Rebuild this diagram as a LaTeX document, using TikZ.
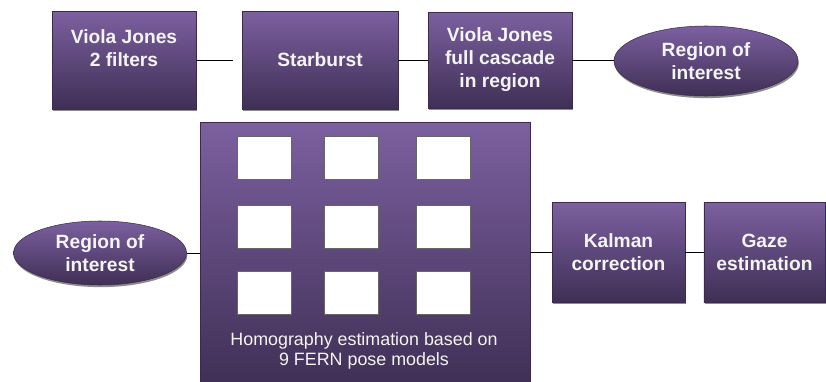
\documentclass[tikz,border=0pt]{standalone}
\usepackage{fontspec}
\setmainfont{Liberation Sans}
\usetikzlibrary{shadows,shapes.geometric}
\definecolor{ptop}{HTML}{7C60A0}
\definecolor{pbot}{HTML}{3F2F55}
\definecolor{pedge}{HTML}{3A2B4C}
\definecolor{txt}{HTML}{F4F4F4}
\begin{document}
\begin{tikzpicture}[x=0.75pt,y=-0.75pt,
  pbox/.style={rectangle, draw=pedge, line width=0.4pt, top color=ptop, bottom color=pbot,
    inner sep=0pt, align=center, text=txt,
    font=\fontsize{14.4pt}{17.25pt}\selectfont\bfseries,
    drop shadow={shadow xshift=0.6pt, shadow yshift=-1.6pt, fill=black!45, opacity=1}},
  pell/.style={ellipse, draw=pedge, line width=0.4pt, top color=ptop, bottom color=pbot,
    inner sep=0pt, align=center, text=txt,
    font=\fontsize{14.4pt}{17.25pt}\selectfont\bfseries,
    drop shadow={shadow xshift=0.6pt, shadow yshift=-1.6pt, fill=black!45, opacity=1}},
  wsq/.style={rectangle, draw=black!60, line width=0.4pt, fill=white, inner sep=0pt,
    minimum width=40.5pt, minimum height=32.25pt,
    drop shadow={shadow xshift=0.6pt, shadow yshift=-1.4pt, shadow scale=0.95, fill=black!35, opacity=0.8}},
  conn/.style={draw=black, line width=0.6pt}
]
\useasboundingbox (0,0) rectangle (826,382);
\fill[white] (0,0) rectangle (826,382);

\node[pbox, minimum width=108pt, minimum height=73.5pt] (vj2) at (124,60) {Viola Jones\\2 filters\\\mbox{}};
\node[pbox, minimum width=117pt, minimum height=73.5pt] (sb) at (320,60) {Starburst};
\node[pbox, minimum width=108pt, minimum height=72pt] (vjf) at (500,60) {Viola Jones\\full cascade\\in region};
\node[pell, minimum width=138pt, minimum height=52.5pt] (roi1) at (706,61) {Region of\\interest};

\node[pell, minimum width=129.75pt, minimum height=48pt] (roi2) at (100,253) {Region of\\interest};
\node[pbox, minimum width=247.5pt, minimum height=198pt] (homo) at (365,254) {};
\foreach \i/\x in {1/264,2/351,3/443}{
  \foreach \j/\y in {1/158,2/227,3/293}{
    \node[wsq] (sq\i\j) at (\x,\y) {};
  }
}
\node[text=txt, align=center, inner sep=0pt,
  font=\fontsize{13.4pt}{15pt}\selectfont] (homotxt) at (364,351)
  {Homography estimation based on\\9 FERN pose models};
\node[pbox, minimum width=99.75pt, minimum height=75pt] (kal) at (618.5,252) {Kalman\\correction};
\node[pbox, minimum width=91pt, minimum height=75pt] (gaze) at (764.5,252) {Gaze\\estimation};

\draw[conn, shorten >=6.75pt] (vj2.east) -- (sb.west);
\draw[conn] (sb.east) -- (vjf.west);
\draw[conn] (vjf.east) -- (vjf.east -| roi1.west);
\draw[conn] (roi2.east) -- (roi2.east -| homo.west);
\draw[conn] (homo.east |- kal.west) -- (kal.west);
\draw[conn] (kal.east) -- (gaze.west);
\end{tikzpicture}
\end{document}
